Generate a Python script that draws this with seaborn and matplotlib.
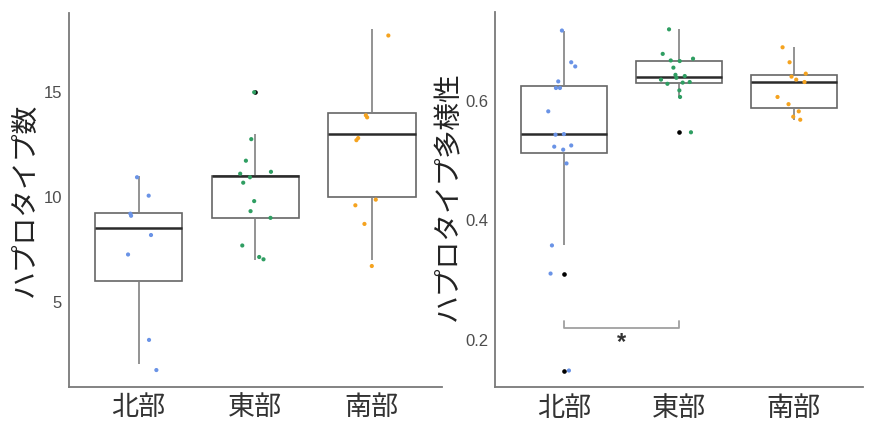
import numpy as np
import pandas as pd
import matplotlib
matplotlib.use("Agg")
import matplotlib.pyplot as plt
import seaborn as sns

# ---------------- data ----------------
regions = ["北部", "東部", "南部"]
region_colors = ["#6a93e6", "#2f9e62", "#f5a31f"]

# Panel A: haplotype counts (integer values used for the boxes)
count_north = [11, 10, 9, 9, 8, 7, 3, 2]
count_east = [15, 13, 12, 11, 11, 11, 11, 10, 9, 9, 8, 7, 7]
count_south = [18, 14, 14, 13, 13, 10, 10, 9, 7]

# Panel A: jittered dots as drawn (value, horizontal jitter in category units)
count_north_pts = [10.94, 10.06, 9.2, 9.1, 8.18, 7.25, 3.17, 1.73]
count_north_dx = [-0.014, 0.086, -0.071, -0.065, 0.106, -0.091, 0.089, 0.152]
count_east_pts = [15.0, 12.76, 11.73, 11.11, 11.2, 10.94, 10.68, 9.8, 9.32, 9.0, 7.68, 7.13, 7.02]
count_east_dx = [-0.009, -0.034, -0.08, -0.129, 0.135, -0.045, -0.103, -0.009, -0.04, 0.131, -0.111, 0.034, 0.071]
count_south_pts = [17.71, 13.9, 13.8, 12.81, 12.71, 9.6, 9.87, 8.71, 6.7]
count_south_dx = [0.142, -0.051, -0.04, -0.117, -0.132, -0.141, 0.034, -0.063, 0.0]

# Panel B: haplotype diversity
div_north = [0.717, 0.664, 0.657, 0.632, 0.621, 0.621, 0.582, 0.543, 0.544,
             0.523, 0.525, 0.518, 0.495, 0.358, 0.311, 0.149]
div_north_dx = [-0.02, 0.061, 0.096, -0.052, -0.072, -0.037, -0.139, -0.076, -0.003,
                -0.087, 0.061, -0.009, 0.02, -0.107, -0.119, 0.041]
div_east = [0.719, 0.678, 0.670, 0.667, 0.666, 0.655, 0.643, 0.641, 0.638,
            0.635, 0.628, 0.630, 0.631, 0.617, 0.606, 0.547]
div_east_dx = [-0.087, -0.142, 0.122, -0.072, 0.006, -0.049, -0.031, 0.05, -0.023,
               -0.157, -0.101, 0.032, 0.093, 0.003, 0.009, 0.104]
div_south = [0.689, 0.664, 0.645, 0.640, 0.635, 0.631, 0.606, 0.594, 0.582, 0.573, 0.568]
div_south_dx = [-0.098, -0.037, 0.104, -0.02, 0.021, 0.093, -0.142, -0.046, 0.043, -0.005, 0.056]

count_ticks = [5, 10, 15]
div_ticks = [0.2, 0.4, 0.6]
ylabel_a = "ハプロタイプ数"
ylabel_b = "ハプロタイプ多様性"
sig_pair = (0, 1)
sig_label = "*"

# ---------------- style ----------------
sns.set_style("white")
plt.rcParams["font.family"] = ["Liberation Sans", "Noto Sans CJK JP", "DejaVu Sans"]

fig = plt.figure(figsize=(8.73, 4.47), dpi=100)
axA = fig.add_axes([0.0787, 0.1342, 0.4273, 0.8374])
axB = fig.add_axes([0.5674, 0.1336, 0.4208, 0.8396])

box_kw = dict(
    order=regions, width=0.75, color="white", linecolor="#666666",
    linewidth=1.2, showcaps=False,
    whiskerprops=dict(color="#808080", linewidth=1.2),
    boxprops=dict(edgecolor="#666666", linewidth=1.2),
    medianprops=dict(color="#2b2b2b", linewidth=1.8),
    flierprops=dict(marker="o", markerfacecolor="black", markeredgecolor="black",
                    markersize=2.3, linestyle="none"),
)


def long_df(groups):
    rows = []
    for r, vals in zip(regions, groups):
        for v in vals:
            rows.append((r, v))
    return pd.DataFrame(rows, columns=["region", "value"])


def pts_df(groups, dxs):
    rows = []
    for i, (r, vals, dx) in enumerate(zip(regions, groups, dxs)):
        for v, d in zip(vals, dx):
            rows.append((i + d, v, r))
    return pd.DataFrame(rows, columns=["x", "value", "region"])


def style_axis(ax, ticks, fmt):
    for s in ["top", "right"]:
        ax.spines[s].set_visible(False)
    for s in ["left", "bottom"]:
        ax.spines[s].set_color("#7a7a7a")
        ax.spines[s].set_linewidth(1.3)
    ax.set_xlim(-0.6, 2.6)
    ax.set_yticks(ticks)
    ax.set_yticklabels([fmt(t) for t in ticks])
    ax.tick_params(axis="y", length=3, width=1, color="#7a7a7a",
                   labelsize=12, labelcolor="#4d4d4d", pad=2)
    ax.tick_params(axis="x", length=3, width=1, color="#7a7a7a",
                   labelsize=19.5, labelcolor="#333333", pad=3)
    ax.set_xlabel("")
    ax.grid(False)


# Panel A
sns.boxplot(data=long_df([count_north, count_east, count_south]),
            x="region", y="value", ax=axA, **box_kw)
sns.scatterplot(data=pts_df([count_north_pts, count_east_pts, count_south_pts],
                            [count_north_dx, count_east_dx, count_south_dx]),
                x="x", y="value", hue="region", hue_order=regions,
                palette=region_colors, s=9, linewidth=0, legend=False, ax=axA,
                zorder=5)
style_axis(axA, count_ticks, lambda t: f"{t:d}")
axA.set_ylim(0.92, 18.8)
axA.set_ylabel(ylabel_a, fontsize=20, color="#222222")
axA.yaxis.set_label_coords(-0.08, 0.5)

# Panel B
sns.boxplot(data=long_df([div_north, div_east, div_south]),
            x="region", y="value", ax=axB, **box_kw)
sns.scatterplot(data=pts_df([div_north, div_east, div_south],
                            [div_north_dx, div_east_dx, div_south_dx]),
                x="x", y="value", hue="region", hue_order=regions,
                palette=region_colors, s=9, linewidth=0, legend=False, ax=axB,
                zorder=5)
style_axis(axB, div_ticks, lambda t: f"{t:.1f}")
axB.set_ylim(0.121, 0.748)
axB.set_ylabel(ylabel_b, fontsize=20, color="#222222")
axB.yaxis.set_label_coords(-0.09, 0.51)

# significance bracket
x0, x1 = sig_pair
y_bar, y_tip = 0.220, 0.232
axB.plot([x0, x0, x1, x1], [y_tip, y_bar, y_bar, y_tip], color="#a0a0a0", linewidth=1.3)
axB.text((x0 + x1) / 2, 0.196, sig_label, ha="center", va="center",
         fontsize=17, fontweight="bold", color="#333333")

fig.savefig("out.png", dpi=100)
